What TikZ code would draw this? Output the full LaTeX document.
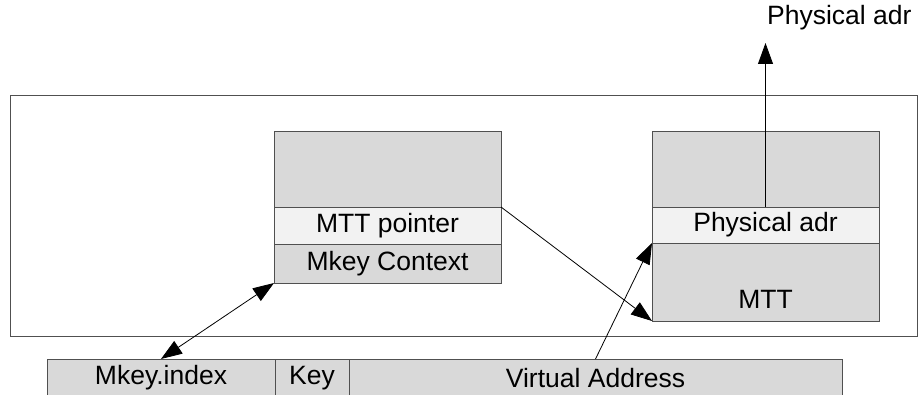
\documentclass[tikz,border=0pt]{standalone}
\usepackage{fontspec}
\setmainfont{Liberation Sans}
\usetikzlibrary{arrows.meta}
\definecolor{boxgray}{HTML}{D9D9D9}
\definecolor{rowlight}{HTML}{F2F2F2}
\definecolor{edgegray}{HTML}{505050}
\begin{document}
\begin{tikzpicture}[x=1pt,y=-1pt,
  txt/.style={font=\fontsize{26.5}{31}\selectfont},
  cell/.style={draw=edgegray,line width=0.9pt,fill=boxgray,inner sep=0pt,outer sep=0pt,txt},
  lightcell/.style={cell,fill=rowlight},
  conn/.style={draw=black,line width=0.8pt},
  tip/.style={-{Triangle[length=21pt,width=15pt]}},
  tips/.style={{Triangle[length=21pt,width=15pt]}-{Triangle[length=21pt,width=15pt]}}
]
\useasboundingbox (0,0) rectangle (919,395);
\clip (0,0) rectangle (919,395);
% outer frame
\node[draw=edgegray,line width=0.9pt,minimum width=907pt,minimum height=241pt,inner sep=0pt] (frame) at (463.5,215.5) {};
% left stack (Mkey context)
\node[cell,minimum width=227pt,minimum height=76pt] (ltop) at (387.5,169) {};
\node[lightcell,minimum width=227pt,minimum height=37pt] (mttptr) at (387.5,225.5) {MTT pointer};
\node[cell,minimum width=227pt,minimum height=39pt] (ctx) at (387.5,263.5) {Mkey Context};
% right stack (MTT)
\node[cell,minimum width=227pt,minimum height=76pt] (rtop) at (765.5,169) {};
\node[lightcell,minimum width=227pt,minimum height=36pt] (phys) at (765.5,225) {Physical adr};
\node[cell,minimum width=227pt,minimum height=78pt] (mtt) at (765.5,282) {};
\node[txt,inner sep=0pt] (mttlbl) at (765.5,299) {MTT};
% bottom bar
\node[cell,minimum width=228pt,minimum height=44pt] (mkeyidx) at (161,381) {};
\node[cell,minimum width=74pt,minimum height=44pt] (key) at (312,381) {};
\node[cell,minimum width=493pt,minimum height=44pt] (va) at (595.5,381) {};
\node[txt,inner sep=0pt] (idxlbl) at (161,378) {Mkey.index};
\node[txt,inner sep=0pt] (keylbl) at (312,378) {Key};
\node[txt,inner sep=0pt] (valbl) at (595.5,378) {Virtual Address};
% top label
\node[txt,inner sep=0pt,anchor=west] (physout) at (767,18) {Physical adr};
\coordinate (uptip) at (765.5,43);
% connectors
\draw[conn,tips] (mkeyidx.north) -- (ctx.south west);
\draw[conn,tip] (mttptr.north east) -- (mtt.south west);
\draw[conn,tip] (va.north) -- (phys.south west);
\draw[conn,tip] (phys.north) -- (uptip);
\end{tikzpicture}
\end{document}
